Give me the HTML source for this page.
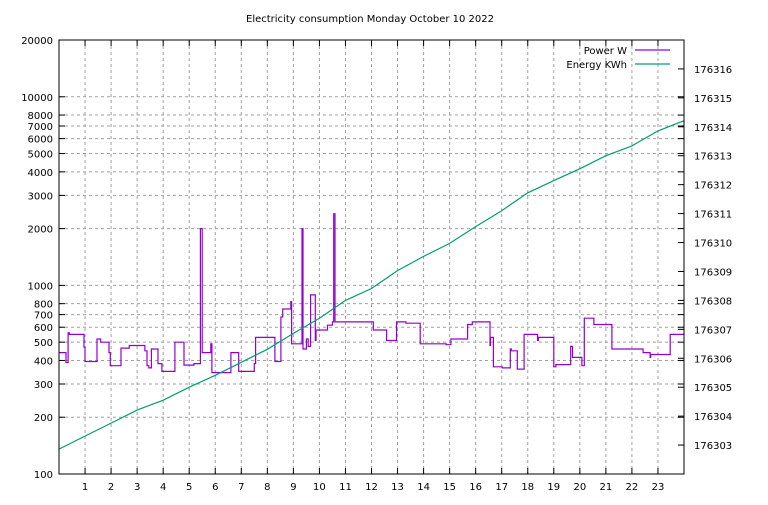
<!DOCTYPE html>
<html><head><meta charset="utf-8"><style>
body{margin:0;background:#fff}
svg text{font-family:"DejaVu Sans","Liberation Sans",sans-serif;font-size:10px;fill:#000}
</style></head><body>
<svg id="c" width="768" height="500" xmlns="http://www.w3.org/2000/svg">
<rect width="768" height="500" fill="#fff"/>
</svg>
<script>
const powerHours=[0,0.27,0.35,0.4,0.96,1.0,1.46,1.6,1.92,1.97,2.38,2.7,3.3,3.38,3.45,3.55,3.8,3.95,4.45,4.8,5.18,5.43,5.5,5.83,5.87,6.6,6.9,7.5,7.55,8.29,8.52,8.59,8.65,8.9,8.93,9.33,9.37,9.4,9.5,9.57,9.66,9.84,9.87,10.31,10.5,10.55,10.6,11.1,12.07,12.58,12.96,13.32,13.87,14.87,15.05,15.69,15.87,16.55,16.57,16.68,17.02,17.33,17.37,17.6,17.86,18.38,18.41,19.0,19.08,19.65,19.72,20.08,20.17,20.54,21.23,22.43,22.7,22.72,23.47,24];
const powerValues=[440,390,560,550,470,395,520,500,440,375,465,480,450,375,365,460,385,350,500,378,385,2000,440,490,345,440,350,385,530,395,680,750,750,820,490,2000,460,460,520,475,890,510,580,615,640,2400,640,640,580,510,640,630,490,485,520,620,640,480,530,370,365,460,450,360,550,510,530,370,380,475,415,375,670,620,460,440,415,430,550,378];
const energyHours=[0,1,2,3,4,5,6,7,8,9,10,11,12,13,14,15,16,17,18,19,20,21,22,23,24];
const energyValues=[176302.86,176303.31,176303.76,176304.21,176304.55,176305.0,176305.41,176305.86,176306.31,176306.86,176307.38,176308.0,176308.41,176309.03,176309.52,176309.97,176310.55,176311.10,176311.72,176312.14,176312.55,176313.0,176313.34,176313.86,176314.21];
const yTicksLeft=[100,200,300,400,500,600,700,800,1000,2000,3000,4000,5000,6000,7000,8000,10000,20000];
const yTicksRight=[176303,176304,176305,176306,176307,176308,176309,176310,176311,176312,176313,176314,176315,176316];
const xTicks=[1,2,3,4,5,6,7,8,9,10,11,12,13,14,15,16,17,18,19,20,21,22,23];

const L=59,R=684,T=40,B=474;
const xs=h=>L+(R-L)*h/24;
const yl=v=>B-(B-T)*(Math.log10(v)-2)/Math.log10(200);
const yr=v=>B-(B-T)*(v-176302)/15;
const svg=document.getElementById('c');
const NS='http://www.w3.org/2000/svg';
function el(tag,attrs,parent){const e=document.createElementNS(NS,tag);for(const k in attrs)e.setAttribute(k,attrs[k]);(parent||svg).appendChild(e);return e;}

const grid=el('g',{});


yTicksLeft.forEach(v=>{const y=yl(v);
 if(v>100&&v<20000){el('line',{x1:L,x2:R,y1:y,y2:y,stroke:'#a0a0a0','stroke-dasharray':'3,3','stroke-width':1},grid);}
 el('line',{x1:L,x2:L+6,y1:y,y2:y,stroke:'#000'},grid);
 el('line',{x1:R,x2:R-6,y1:y,y2:y,stroke:'#000'},grid);
 const t=el('text',{x:L-6,y:y+4,'text-anchor':'end'});t.textContent=v;
 
 
});
yTicksRight.forEach(v=>{const y=yr(v);
 el('line',{x1:R,x2:R-6,y1:y,y2:y,stroke:'#000'},grid);
 const t=el('text',{x:R+10,y:y+4});t.textContent=v;
 
 
});
xTicks.forEach(h=>{const x=xs(h);
 el('line',{x1:x,x2:x,y1:T,y2:B,stroke:'#a0a0a0','stroke-dasharray':'3,3'},grid);
 el('line',{x1:x,x2:x,y1:B,y2:B-6,stroke:'#000'},grid);
 el('line',{x1:x,x2:x,y1:T,y2:T+6,stroke:'#000'},grid);
 const t=el('text',{x:x,y:B+16,'text-anchor':'middle'});t.textContent=h;
 
 
});

let d='';
for(let i=0;i<powerHours.length-1;i++){
 const x0=xs(powerHours[i]),x1=xs(powerHours[i+1]),y=yl(powerValues[i]);
 d+=(i===0?'M':'L')+x0.toFixed(1)+','+y.toFixed(1)+'L'+x1.toFixed(1)+','+y.toFixed(1);
}
const pw=el('path',{d:d,fill:'none',stroke:'#9400d3','stroke-width':1.2});



const en=el('polyline',{points:energyHours.map((h,i)=>xs(h).toFixed(1)+','+yr(energyValues[i]).toFixed(1)).join(' '),fill:'none',stroke:'#009e73','stroke-width':1.2});



const frame=el('rect',{x:L,y:T,width:R-L,height:B-T,fill:'none',stroke:'#000'});



const title=el('text',{x:370,y:22,'text-anchor':'middle'});title.textContent='Electricity consumption Monday October 10 2022';



const lg=el('g',{});


const l1=el('text',{x:627,y:54,'text-anchor':'end'},lg);l1.textContent='Power W';


el('line',{x1:635,x2:670,y1:50,y2:50,stroke:'#9400d3','stroke-width':1.2},lg);
const l2=el('text',{x:627,y:68,'text-anchor':'end'},lg);l2.textContent='Energy KWh';


el('line',{x1:635,x2:670,y1:64,y2:64,stroke:'#009e73','stroke-width':1.2},lg);
</script>
</body></html>
